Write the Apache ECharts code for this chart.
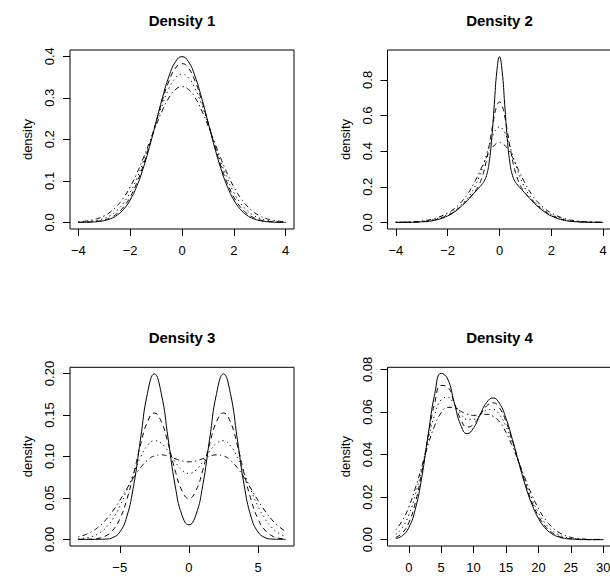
<!DOCTYPE html>
<html>
<head>
<meta charset="utf-8">
<script src="https://cdn.jsdelivr.net/npm/echarts@6/dist/echarts.min.js"></script>
<style>
  html, body { margin: 0; padding: 0; background: #ffffff; }
  #chart { width: 610px; height: 577px; }
</style>
</head>
<body>
<div id="chart"></div>
<script>
// ---------------------------------------------------------------------------
// Density 1: true density (solid) and three smoothed versions
// ---------------------------------------------------------------------------
const d1X = [-4, -3.75, -3.5, -3.25, -3, -2.75, -2.5, -2.25, -2, -1.75, -1.5, -1.25, -1, -0.75, -0.5, -0.25,
             0, 0.25, 0.5, 0.75, 1, 1.25, 1.5, 1.75, 2, 2.25, 2.5, 2.75, 3, 3.25, 3.5, 3.75, 4];
const d1Solid = [0.0001, 0.0004, 0.0009, 0.0020, 0.0044, 0.0091, 0.0175, 0.0317, 0.0540, 0.0863, 0.1295, 0.1826, 0.2420, 0.3011, 0.3521, 0.3867,
                 0.3989, 0.3867, 0.3521, 0.3011, 0.2420, 0.1826, 0.1295, 0.0863, 0.0540, 0.0317, 0.0175, 0.0091, 0.0044, 0.0020, 0.0009, 0.0004, 0.0001];
const d1Dashed = [0.0003, 0.0006, 0.0014, 0.0030, 0.0062, 0.0119, 0.0217, 0.0375, 0.0610, 0.0938, 0.1361, 0.1866, 0.2415, 0.2952, 0.3407, 0.3713,
                  0.3821, 0.3713, 0.3407, 0.2952, 0.2415, 0.1866, 0.1361, 0.0938, 0.0610, 0.0375, 0.0217, 0.0119, 0.0062, 0.0030, 0.0014, 0.0006, 0.0003];
const d1Dotted = [0.0006, 0.0013, 0.0027, 0.0052, 0.0098, 0.0173, 0.0293, 0.0471, 0.0720, 0.1048, 0.1451, 0.1910, 0.2392, 0.2849, 0.3228, 0.3480,
                  0.3568, 0.3480, 0.3228, 0.2849, 0.2392, 0.1910, 0.1451, 0.1048, 0.0720, 0.0471, 0.0293, 0.0173, 0.0098, 0.0052, 0.0027, 0.0013, 0.0006];
const d1DotDash = [0.0015, 0.0029, 0.0054, 0.0094, 0.0159, 0.0258, 0.0401, 0.0598, 0.0854, 0.1169, 0.1536, 0.1935, 0.2336, 0.2706, 0.3005, 0.3200,
                   0.3268, 0.3200, 0.3005, 0.2706, 0.2336, 0.1935, 0.1536, 0.1169, 0.0854, 0.0598, 0.0401, 0.0258, 0.0159, 0.0094, 0.0054, 0.0029, 0.0015];
const d1XTicks = [-4, -2, 0, 2, 4];
const d1YTicks = [0, 0.1, 0.2, 0.3, 0.4];

// ---------------------------------------------------------------------------
// Density 2: sharp central spike on a wide base
// ---------------------------------------------------------------------------
const d2X = [-4, -3.5, -3, -2.5, -2, -1.75, -1.5, -1.25, -1, -0.9, -0.8, -0.7, -0.6, -0.5, -0.4, -0.3, -0.2, -0.1,
             0, 0.1, 0.2, 0.3, 0.4, 0.5, 0.6, 0.7, 0.8, 0.9, 1, 1.25, 1.5, 1.75, 2, 2.5, 3, 3.5, 4];
const d2Solid = [0.0001, 0.0006, 0.0030, 0.0117, 0.0360, 0.0575, 0.0863, 0.1217, 0.1613, 0.1774, 0.1933, 0.2097, 0.2295, 0.2639, 0.3355, 0.4701, 0.6640, 0.8515,
                 0.9309, 0.8515, 0.6640, 0.4701, 0.3355, 0.2639, 0.2295, 0.2097, 0.1933, 0.1774, 0.1613, 0.1217, 0.0863, 0.0575, 0.0360, 0.0117, 0.0030, 0.0006, 0.0001];
const d2Dashed = [0.0001, 0.0008, 0.0037, 0.0136, 0.0392, 0.0610, 0.0894, 0.1239, 0.1642, 0.1839, 0.2086, 0.2420, 0.2883, 0.3509, 0.4290, 0.5155, 0.5967, 0.6552,
                  0.6766, 0.6552, 0.5967, 0.5155, 0.4290, 0.3509, 0.2883, 0.2420, 0.2086, 0.1839, 0.1642, 0.1239, 0.0894, 0.0610, 0.0392, 0.0136, 0.0037, 0.0008, 0.0001];
const d2Dotted = [0.0003, 0.0013, 0.0053, 0.0170, 0.0445, 0.0666, 0.0954, 0.1331, 0.1872, 0.2162, 0.2503, 0.2897, 0.3339, 0.3810, 0.4278, 0.4707, 0.5055, 0.5282,
                  0.5360, 0.5282, 0.5055, 0.4707, 0.4278, 0.3810, 0.3339, 0.2897, 0.2503, 0.2162, 0.1872, 0.1331, 0.0954, 0.0666, 0.0445, 0.0170, 0.0053, 0.0013, 0.0003];
const d2DotDash = [0.0006, 0.0023, 0.0079, 0.0221, 0.0524, 0.0767, 0.1098, 0.1551, 0.2154, 0.2436, 0.2736, 0.3046, 0.3356, 0.3654, 0.3925, 0.4156, 0.4332, 0.4441,
                   0.4479, 0.4441, 0.4332, 0.4156, 0.3925, 0.3654, 0.3356, 0.3046, 0.2736, 0.2436, 0.2154, 0.1551, 0.1098, 0.0767, 0.0524, 0.0221, 0.0079, 0.0023, 0.0006];
const d2XTicks = [-4, -2, 0, 2, 4];
const d2YTicks = [0, 0.2, 0.4, 0.6, 0.8];

// ---------------------------------------------------------------------------
// Density 3: symmetric bimodal
// ---------------------------------------------------------------------------
const d3X = [-8, -7.5, -7, -6.5, -6, -5.5, -5, -4.5, -4, -3.5, -3, -2.5, -2, -1.5, -1, -0.5,
             0, 0.5, 1, 1.5, 2, 2.5, 3, 3.5, 4, 4.5, 5, 5.5, 6, 6.5, 7];
const d3Solid = [0.0000, 0.0000, 0.0000, 0.0001, 0.0004, 0.0022, 0.0088, 0.0270, 0.0648, 0.1210, 0.1760, 0.1995, 0.1760, 0.1211, 0.0652, 0.0292,
                 0.0175, 0.0292, 0.0652, 0.1211, 0.1760, 0.1995, 0.1760, 0.1210, 0.0648, 0.0270, 0.0088, 0.0022, 0.0004, 0.0001, 0.0000];
const d3Dashed = [0.0000, 0.0001, 0.0004, 0.0014, 0.0043, 0.0111, 0.0246, 0.0475, 0.0790, 0.1138, 0.1416, 0.1524, 0.1420, 0.1152, 0.0833, 0.0585,
                  0.0493, 0.0585, 0.0833, 0.1152, 0.1420, 0.1524, 0.1416, 0.1138, 0.0790, 0.0475, 0.0246, 0.0111, 0.0043, 0.0014, 0.0004];
const d3Dotted = [0.0006, 0.0016, 0.0035, 0.0074, 0.0141, 0.0247, 0.0398, 0.0588, 0.0796, 0.0989, 0.1130, 0.1189, 0.1159, 0.1061, 0.0936, 0.0835,
                  0.0796, 0.0835, 0.0936, 0.1061, 0.1159, 0.1189, 0.1130, 0.0989, 0.0796, 0.0588, 0.0398, 0.0247, 0.0141, 0.0074, 0.0035];
const d3DotDash = [0.0031, 0.0056, 0.0096, 0.0155, 0.0237, 0.0343, 0.0469, 0.0607, 0.0744, 0.0864, 0.0954, 0.1006, 0.1019, 0.1003, 0.0973, 0.0946,
                   0.0935, 0.0946, 0.0973, 0.1003, 0.1019, 0.1006, 0.0954, 0.0864, 0.0744, 0.0607, 0.0469, 0.0343, 0.0237, 0.0155, 0.0096];
const d3XTicks = [-5, 0, 5];
const d3YTicks = [0, 0.05, 0.10, 0.15, 0.20];

// ---------------------------------------------------------------------------
// Density 4: asymmetric bimodal
// ---------------------------------------------------------------------------
const d4X = [-2, -1, 0, 1, 2, 3, 4, 5, 6, 7, 8, 9, 10, 11, 12, 13, 14, 15, 16,
             17, 18, 19, 20, 21, 22, 23, 24, 25, 26, 27, 28, 29, 30];
const d4Solid = [0.0005, 0.0018, 0.0056, 0.0142, 0.0292, 0.0494, 0.0683, 0.0782, 0.0755, 0.0646, 0.0540, 0.0498, 0.0525, 0.0587, 0.0644, 0.0666, 0.0640, 0.0570, 0.0470,
                 0.0359, 0.0253, 0.0166, 0.0100, 0.0056, 0.0029, 0.0014, 0.0006, 0.0003, 0.0001, 0.0000, 0.0000, 0.0000, 0.0000];
const d4Dashed = [0.0010, 0.0031, 0.0079, 0.0172, 0.0314, 0.0487, 0.0641, 0.0725, 0.0717, 0.0645, 0.0567, 0.0529, 0.0542, 0.0585, 0.0628, 0.0643, 0.0619, 0.0555, 0.0464,
                  0.0361, 0.0262, 0.0176, 0.0111, 0.0065, 0.0035, 0.0018, 0.0008, 0.0004, 0.0002, 0.0001, 0.0000, 0.0000, 0.0000];
const d4Dotted = [0.0024, 0.0056, 0.0115, 0.0209, 0.0333, 0.0470, 0.0587, 0.0657, 0.0669, 0.0637, 0.0593, 0.0565, 0.0565, 0.0586, 0.0608, 0.0612, 0.0587, 0.0532, 0.0454,
                  0.0363, 0.0273, 0.0192, 0.0127, 0.0079, 0.0046, 0.0025, 0.0013, 0.0006, 0.0003, 0.0001, 0.0000, 0.0000, 0.0000];
const d4DotDash = [0.0047, 0.0089, 0.0153, 0.0240, 0.0342, 0.0447, 0.0536, 0.0596, 0.0622, 0.0620, 0.0604, 0.0590, 0.0584, 0.0587, 0.0589, 0.0580, 0.0553, 0.0504, 0.0438,
                   0.0362, 0.0283, 0.0210, 0.0147, 0.0098, 0.0062, 0.0037, 0.0021, 0.0011, 0.0006, 0.0003, 0.0001, 0.0001, 0.0000];
const d4XTicks = [0, 5, 10, 15, 20, 25, 30];
const d4YTicks = [0, 0.02, 0.04, 0.06, 0.08];

const titles = ['Density 1', 'Density 2', 'Density 3', 'Density 4'];
const yName = 'density';

// ---------------------------------------------------------------------------
// Layout and styling
// ---------------------------------------------------------------------------
const FONT = '"Liberation Sans", Arial, Helvetica, sans-serif';
const DASH = {
  solid: 'solid',
  dashed: [5, 4],
  dotted: [1.2, 3.4],
  dotdash: [1.2, 3.4, 5, 3.4]
};

const panels = [
  { x: d1X, curves: [d1Solid, d1Dashed, d1Dotted, d1DotDash], xTicks: d1XTicks, yTicks: d1YTicks, yDigits: 1,
    grid: { left: 70, top: 50, width: 224, height: 179 }, xRange: [-4.32, 4.32], yRange: [-0.0158, 0.4149], titleY: 13 },
  { x: d2X, curves: [d2Solid, d2Dashed, d2Dotted, d2DotDash], xTicks: d2XTicks, yTicks: d2YTicks, yDigits: 1,
    grid: { left: 387.5, top: 50, width: 224, height: 179 }, xRange: [-4.32, 4.32], yRange: [-0.0372, 0.9681], titleY: 13 },
  { x: d3X, curves: [d3Solid, d3Dashed, d3Dotted, d3DotDash], xTicks: d3XTicks, yTicks: d3YTicks, yDigits: 2,
    grid: { left: 70, top: 367.3, width: 224, height: 178.7 }, xRange: [-8.6, 7.6], yRange: [-0.0080, 0.2075], titleY: 330 },
  { x: d4X, curves: [d4Solid, d4Dashed, d4Dotted, d4DotDash], xTicks: d4XTicks, yTicks: d4YTicks, yDigits: 2,
    grid: { left: 387.5, top: 367.3, width: 224, height: 178.7 }, xRange: [-3.28, 31.28], yRange: [-0.0030, 0.0810], titleY: 330 }
];

function fmt(v, digits) {
  return v.toFixed(digits).replace('-', '\u2212');
}

const grids = [], xAxes = [], yAxes = [], series = [], titleOpts = [];
const lineKinds = ['solid', 'dashed', 'dotted', 'dotdash'];

panels.forEach((p, i) => {
  grids.push(Object.assign({
    show: true, borderColor: '#000', borderWidth: 1, backgroundColor: 'transparent',
    containLabel: false, outerBoundsMode: 'none'
  }, p.grid));

  titleOpts.push({
    text: titles[i],
    left: p.grid.left + p.grid.width / 2,
    top: p.titleY,
    textAlign: 'center',
    padding: 0,
    textStyle: { fontSize: 15, fontWeight: 'bold', color: '#000', fontFamily: FONT }
  });

  xAxes.push({
    gridIndex: i, type: 'value', position: 'bottom', min: p.xRange[0], max: p.xRange[1],
    axisLine: { show: false, onZero: false },
    splitLine: { show: false },
    axisTick: { show: true, inside: false, length: 7, customValues: p.xTicks, lineStyle: { color: '#000', width: 1 } },
    axisLabel: { customValues: p.xTicks, formatter: v => fmt(v, 0), margin: 15, color: '#000', fontSize: 13, fontFamily: FONT }
  });

  yAxes.push({
    gridIndex: i, type: 'value', position: 'left', min: p.yRange[0], max: p.yRange[1],
    name: yName, nameLocation: 'middle', nameRotate: 90, nameGap: 36,
    nameTextStyle: { color: '#000', fontSize: 13, fontFamily: FONT },
    axisLine: { show: false, onZero: false },
    splitLine: { show: false },
    axisTick: { show: true, inside: false, length: 7, customValues: p.yTicks, lineStyle: { color: '#000', width: 1 } },
    axisLabel: { customValues: p.yTicks, formatter: v => fmt(v, p.yDigits), rotate: 90, margin: 14, color: '#000', fontSize: 13, fontFamily: FONT }
  });

  p.curves.forEach((ys, k) => {
    series.push({
      type: 'line',
      xAxisIndex: i, yAxisIndex: i,
      data: p.x.map((x, j) => [x, ys[j]]),
      showSymbol: false, symbol: 'none',
      smooth: true,
      silent: true,
      clip: true,
      lineStyle: { color: '#000', width: 1, type: DASH[lineKinds[k]] }
    });
  });
});

const chart = echarts.init(document.getElementById('chart'), null, { renderer: 'svg' });
chart.setOption({
  animation: false,
  backgroundColor: '#ffffff',
  title: titleOpts,
  grid: grids,
  xAxis: xAxes,
  yAxis: yAxes,
  series: series
});
</script>
</body>
</html>
